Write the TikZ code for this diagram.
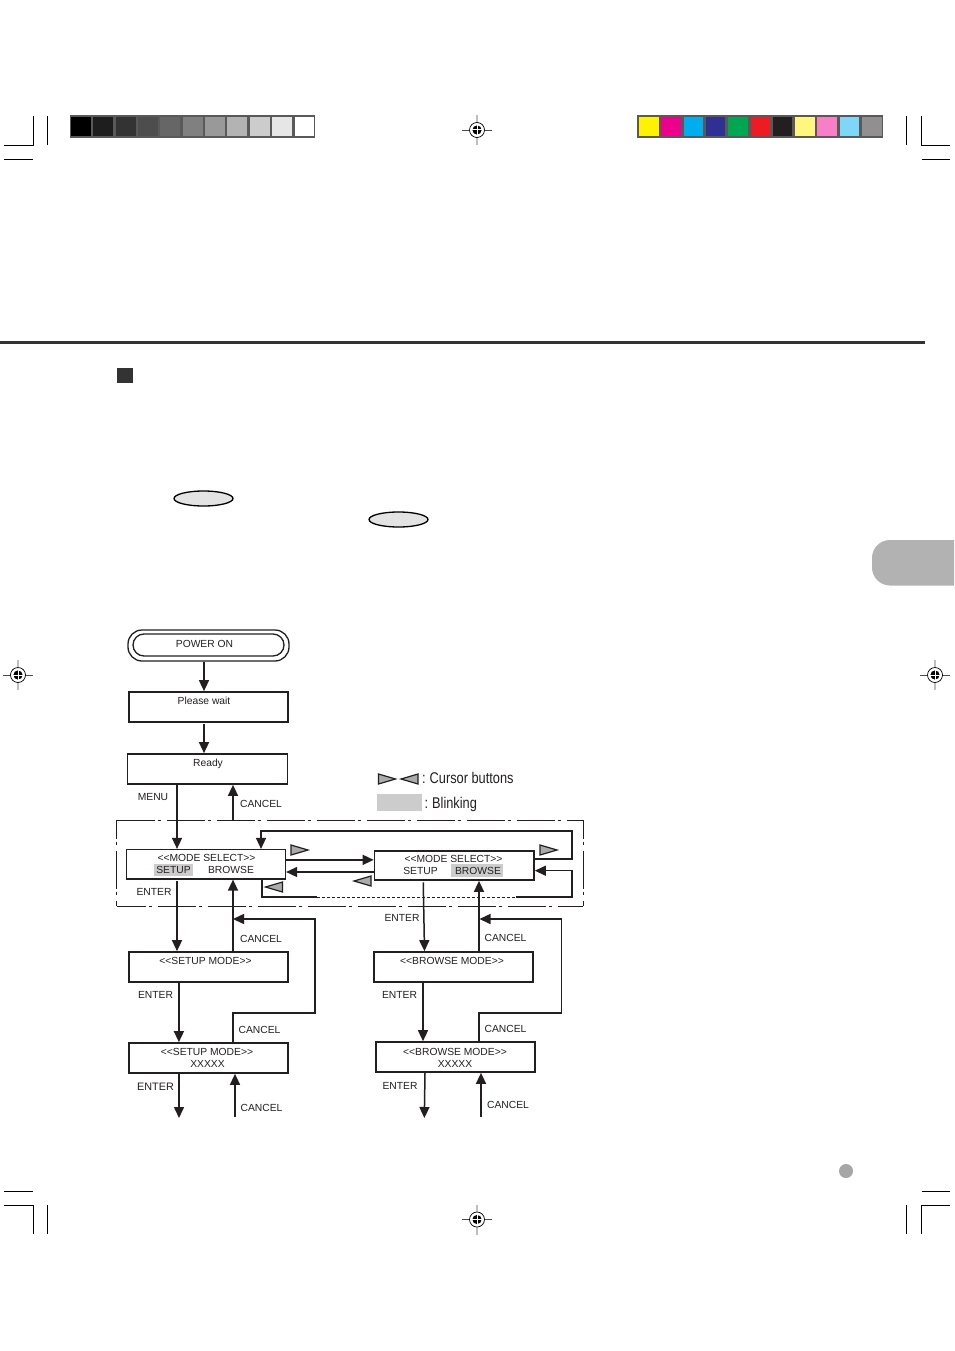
\documentclass[tikz,border=0pt]{standalone}
\usepackage{fontspec}
\setmainfont{Liberation Sans}
\usetikzlibrary{arrows.meta,calc}
\definecolor{ink}{HTML}{231F20}
\definecolor{barframe}{HTML}{595959}
\definecolor{blink}{HTML}{CCCCCC}
\definecolor{cursor}{HTML}{ABABAB}
\tikzset{
  x=1pt,y=-1pt,
  lcd/.style={draw=ink,line width=1.7pt,fill=white,inner sep=0pt,minimum width=159pt,minimum height=30pt},
  lbl/.style={font=\fontsize{10.3}{11}\selectfont,text=ink,inner sep=0pt,text height=8pt,text depth=0pt,anchor=center,yshift=0.7pt},
  biglbl/.style={font=\fontsize{15.5}{15.5}\selectfont,text=ink,inner sep=0pt,anchor=west},
  arr/.style={draw=ink,line width=1.5pt,-{Triangle[length=11pt,width=10pt]}},
  plain/.style={draw=ink,line width=1.5pt},
  curs/.style={draw=ink,line width=1.2pt,fill=cursor,line join=miter},
  crop/.style={draw=black,line width=0.9pt},
  framedash/.style={draw=ink,line width=0.9pt,dash pattern=on 38pt off 3pt on 3pt off 6pt},
  regmark/.pic={
    \draw[black!25,line width=1.4pt] (0,-15) -- (0,15);
    \draw[black!70,line width=0.7pt] (-15,0) -- (15,0);
    \draw[black,fill=white,line width=0.7pt] (0,0) circle (7.5);
    \fill[black] (0,0) circle (4.6);
    \draw[white,line width=1pt] (-5,0) -- (5,0) (0,-5) -- (0,5);
  },
  curR/.pic={\draw[curs] (0,0) -- (0,10) -- (17,5) -- cycle;},
  curL/.pic={\draw[curs] (17,0) -- (17,10) -- (0,5) -- cycle;},
}
\begin{document}
\begin{tikzpicture}
\useasboundingbox (0,0) rectangle (954,1351);
\fill[white] (0,0) rectangle (954,1351);

% crop marks
\draw[crop] (4,145) -- (33.5,145) -- (33.5,116) (47.5,116) -- (47.5,145) (4,159) -- (33,159);
\draw[crop] (906,116) -- (906,145) (921.5,116) -- (921.5,145) -- (950,145) (921.5,159) -- (950,159);
\draw[crop] (4,1191) -- (33,1191) (4,1205) -- (33.5,1205) (33.5,1205) -- (33.5,1234) (47.5,1205) -- (47.5,1234);
\draw[crop] (906,1205) -- (906,1234) (921.5,1234) -- (921.5,1205) -- (950,1205) (921.5,1191) -- (950,1191);

% registration marks
\pic at (477,130) {regmark};
\pic at (477,1219.5) {regmark};
\pic at (18,675) {regmark};
\pic at (935,675) {regmark};

% grey bar
\fill[barframe] (70,115) rectangle (315,138);
\foreach \i/\c in {0/000000,1/1E1E1E,2/333333,3/4D4D4D,4/666666,5/808080,6/999999,7/B3B3B3,8/CCCCCC,9/E6E6E6,10/FFFFFF}{
  \definecolor{cellc}{HTML}{\c}
  \fill[cellc] ({71+22.35*\i},117) rectangle ++(19.8,19);
}
% colour bar
\fill[barframe] (637,115) rectangle (883,138);
\foreach \i/\c in {0/FFF200,1/EC008C,2/00AEEF,3/2E3192,4/00A651,5/ED1C24,6/231F20,7/FFF57F,8/F77FC8,9/7FD7F7,10/918F90}{
  \definecolor{cellc}{HTML}{\c}
  \fill[cellc] ({639+22.3*\i},117) rectangle ++(19.5,19);
}

% page furniture
\fill[black!80] (0,341) rectangle (925,344);
\fill[black!80] (117,368) rectangle (133,383);
\draw[draw=black,fill=black!11,line width=1.3pt] (203.5,498.5) ellipse (29.5 and 7.5);
\draw[draw=black,fill=black!11,line width=1.3pt] (398.5,519.5) ellipse (29.5 and 7.5);
\begin{scope}
\clip (800,500) rectangle (954,620);
\fill[black!30,rounded corners=18pt] (990,540) -- (872,540) -- (872,585.5) -- (990,585.5) -- cycle;
\end{scope}
\fill[black!35] (846,1171) circle (7);

% legend
\pic at (378.5,774) {curR};
\pic at (401,774) {curL};
\node[biglbl] (legcur) at (422,778) {\scalebox{0.825}[1]{:\kern-1pt{} Cursor buttons}};
\fill[blink] (377,794) rectangle (422,811);
\node[biglbl] (legblink) at (424.5,804) {\scalebox{0.825}[1]{:\kern-1pt{} Blinking}};

% dash-dot frame
\node[draw=none,minimum width=466.5pt,minimum height=86pt,inner sep=0pt,outer sep=0pt] (frame) at (349.75,863) {};
\draw[framedash] (frame.north west) -- (frame.north east);
\draw[framedash,dash phase=9pt] (frame.south west) -- (frame.south east);
\draw[framedash,dash phase=19.5pt] (frame.north west) -- (frame.south west);
\draw[framedash,dash phase=19.5pt] (frame.north east) -- (frame.south east);

% boxes
\node[lcd,rounded corners=14pt,minimum width=161pt,minimum height=31pt,line width=1.3pt] (power) at (208.5,645.5) {};
\node[lcd,rounded corners=11pt,minimum width=151pt,minimum height=22pt,line width=1.3pt] (powerin) at (208.5,645) {};
\node[lcd] (pwait) at (208.5,707) {};
\node[lcd,minimum width=160pt] (ready) at (207.5,769) {};
\node[lcd,line width=1.2pt,minimum height=29.5pt] (msl) at (206,864.25) {};
\node[lcd,minimum width=159.5pt,minimum height=29pt] (msr) at (454.25,865.5) {};
\node[lcd] (sm1) at (208.5,967) {};
\node[lcd] (sm2) at (208.5,1058) {};
\node[lcd] (bm1) at (453.5,967) {};
\node[lcd] (bm2) at (455.5,1057) {};

% highlights
\fill[blink] (154,864) rectangle (193,876);
\fill[blink] (451,864) rectangle (503,877);

% free ends and corners
\coordinate (sA) at (233,1013);
\coordinate (sB) at (315,1013);
\coordinate (sC) at (315,919);
\coordinate (sD) at (233,919);
\coordinate (bA) at (479,1013);
\coordinate (bB) at (561.5,1013);
\coordinate (bC) at (561.5,919);
\coordinate (bD) at (479.5,919);
\coordinate (tA) at (572,859.2);
\coordinate (tB) at (572,831);
\coordinate (tC) at (261,831);
\coordinate (uA) at (262,897);
\coordinate (uB) at (317,897);
\coordinate (uC) at (516,897);
\coordinate (uD) at (572,897);
\coordinate (uE) at (572,870.7);
\coordinate (e1) at (179,1118);
\coordinate (c1) at (235,1117);
\coordinate (e2) at (424.3,1118);
\coordinate (c2) at (481,1117);

% connectors
\draw[arr] ([xshift=-4.5pt]power.south) -- ([xshift=-4.5pt]pwait.north);
\draw[arr] ([xshift=-4.5pt,yshift=-1.5pt]pwait.south) -- ([xshift=-3.5pt]ready.north);
\draw[arr] ([xshift=-30.5pt]ready.south) -- ([xshift=-29pt]msl.north);
\draw[arr] ([xshift=-116.75pt]frame.north) -- ([xshift=25.5pt]ready.south);
\draw[arr] ([xshift=-29pt,yshift=-1.5pt]msl.south) -- ([xshift=-31.5pt]sm1.north);
\draw[arr] ([xshift=24.5pt]sm1.north) -- ([xshift=27pt]msl.south);
\draw[arr] ([xshift=24.5pt]sm2.north) -- (sA) -- (sB) -- (sC) -- (sD);
\draw[arr] ([xshift=-29.6pt]sm1.south) -- ([xshift=-29.6pt]sm2.north);
\draw[arr] ([xshift=-29.5pt]sm2.south) -- (e1);
\draw[arr] (c1) -- ([xshift=26.5pt]sm2.south);
\draw[arr] ([yshift=4.4pt]msl.east) -- ([yshift=5.65pt]msr.west);
\draw[arr] ([yshift=-6.5pt]msr.west) -- ([yshift=-7.75pt]msl.east);
\draw[arr] ([yshift=6.3pt]msr.east) -- (tA) -- (tB) -- (tC) -- ([xshift=55pt]msl.north);
\draw[plain] ([xshift=56pt]msl.south) -- (uA) -- (uB);
\draw[plain,line width=1pt,dash pattern=on 3pt off 2pt] (uB) -- (uC);
\draw[arr] (uC) -- (uD) -- (uE) -- ([yshift=-5.2pt]msr.east);
\draw[arr] ([xshift=-31pt,yshift=-1.5pt]msr.south) -- ([xshift=-29pt]bm1.north);
\draw[arr] ([xshift=25.5pt]bm1.north) -- ([xshift=24.75pt]msr.south);
\draw[arr] ([xshift=23.5pt]bm2.north) -- (bA) -- (bB) -- (bC) -- (bD);
\draw[arr] ([xshift=-30.5pt]bm1.south) -- ([xshift=-32.5pt]bm2.north);
\draw[arr] ([xshift=-30.5pt]bm2.south) -- (e2);
\draw[arr] (c2) -- ([xshift=25.5pt]bm2.south);

% cursor triangles
\pic at (291,845) {curR};
\pic at (540,845) {curR};
\pic at (265.5,882) {curL};
\pic at (354,876) {curL};

% texts
\node[lbl] (t1) at (204.5,644) {POWER ON};
\node[lbl] (t2) at (204,701) {Please wait};
\node[lbl] (t3) at (208,763) {Ready};
\node[lbl] (t4) at (153,797) {MENU};
\node[lbl] (t5) at (261,804) {CANCEL};
\node[lbl] (t6) at (206.5,858) {<{}<MODE SELECT>{}>};
\node[lbl] (t7) at (173.5,870) {SETUP};
\node[lbl] (t8) at (231,870) {BROWSE};
\node[lbl] (t9) at (453.5,859) {<{}<MODE SELECT>{}>};
\node[lbl] (t10) at (420.5,871) {SETUP};
\node[lbl] (t11) at (478,871) {BROWSE};
\node[lbl] (t12) at (154,892) {ENTER};
\node[lbl] (t13) at (402,918) {ENTER};
\node[lbl] (t14) at (261,939) {CANCEL};
\node[lbl] (t15) at (505.5,938) {CANCEL};
\node[lbl] (t16) at (205.5,961) {<{}<SETUP MODE>{}>};
\node[lbl] (t17) at (452,961) {<{}<BROWSE MODE>{}>};
\node[lbl] (t18) at (155.5,995) {ENTER};
\node[lbl] (t19) at (399.5,995) {ENTER};
\node[lbl] (t20) at (259.5,1030) {CANCEL};
\node[lbl] (t21) at (505.5,1029) {CANCEL};
\node[lbl] (t22) at (207,1052) {<{}<SETUP MODE>{}>};
\node[lbl] (t23) at (207.5,1064) {XXXXX};
\node[lbl] (t24) at (455,1052) {<{}<BROWSE MODE>{}>};
\node[lbl] (t25) at (455,1064) {XXXXX};
\node[lbl,font=\fontsize{10.8}{12}\selectfont] (t26) at (155.5,1087) {ENTER};
\node[lbl] (t27) at (400,1086) {ENTER};
\node[lbl] (t28) at (261.5,1108) {CANCEL};
\node[lbl] (t29) at (508,1105) {CANCEL};
\end{tikzpicture}
\end{document}
